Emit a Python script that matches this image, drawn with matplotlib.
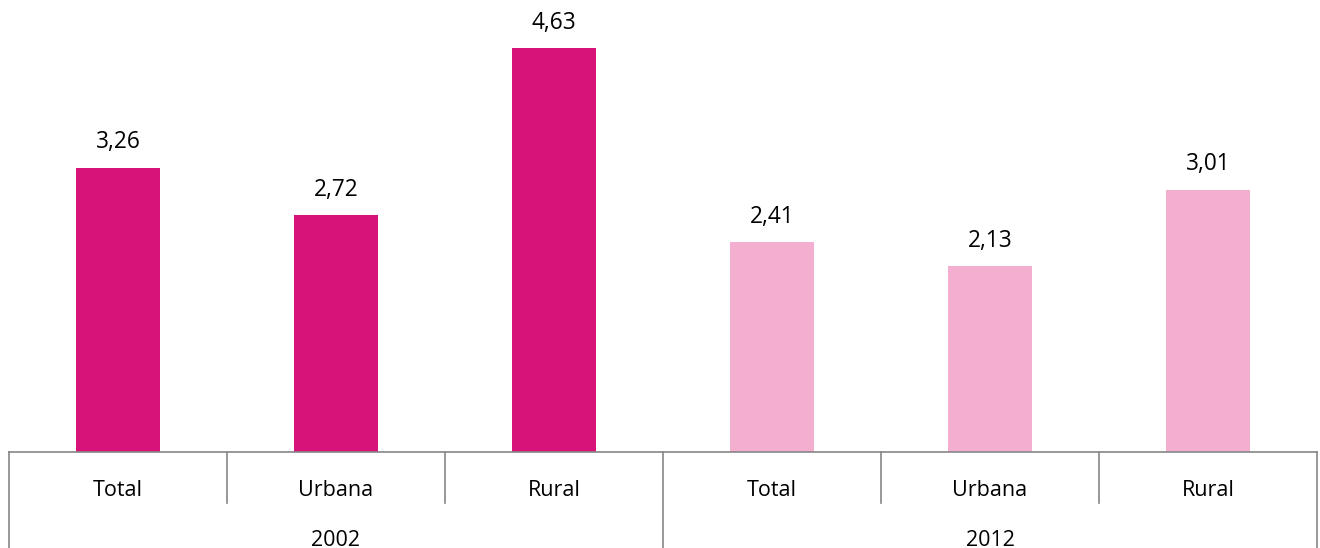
import matplotlib
matplotlib.use("Agg")
import matplotlib.pyplot as plt

categories = ["Total", "Urbana", "Rural", "Total", "Urbana", "Rural"]
years = ["2002", "2012"]
values = [3.26, 2.72, 4.63, 2.41, 2.13, 3.01]
labels = ["3,26", "2,72", "4,63", "2,41", "2,13", "3,01"]
colors = ["#D7137A"] * 3 + ["#F4AED0"] * 3

plt.rcParams['font.family'] = ['Open Sans', 'DejaVu Sans']

W, H = 1320, 548
fig = plt.figure(figsize=(W / 100, H / 100), dpi=100)
ax_left, ax_right, ax_bot, ax_top = 9, 1317, 452, 0
ax = fig.add_axes([ax_left / W, (H - ax_bot) / H, (ax_right - ax_left) / W, (ax_bot - ax_top) / H])

x = list(range(len(values)))
ax.bar(x, values, width=84 / 218, color=colors, zorder=2)
ax.set_xlim(-0.5, len(values) - 0.5)
ax.set_ylim(0, 452 / 87.15)

for xi, v, lab in zip(x, values, labels):
    ax.annotate(lab, (xi, v), xytext=(0, 18.3), textcoords="offset points",
                ha="center", va="center", fontsize=16.3, color="#000000")

for s in ["top", "left", "right"]:
    ax.spines[s].set_visible(False)
ax.spines["bottom"].set_color("#868686")
ax.spines["bottom"].set_linewidth(1.2)
ax.set_yticks([])
ax.set_xticks([])

trans = ax.get_xaxis_transform()
short = -51 / 452
long_ = -96 / 452
for b in [0.5, 1.5, 3.5, 4.5]:
    ax.plot([b, b], [0, short], transform=trans, color="#868686", lw=1.2, clip_on=False)
for b in [-0.5, 2.5, 5.5]:
    ax.plot([b, b], [0, long_], transform=trans, color="#868686", lw=1.2, clip_on=False)

for xi, c in zip(x, categories):
    ax.text(xi, -38 / 452, c, transform=trans, ha="center", va="center", fontsize=15.5)
for i, yr in enumerate(years):
    ax.text(1 + 3 * i, -88 / 452, yr, transform=trans, ha="center", va="center", fontsize=15.5)

fig.savefig("out.png", dpi=100)
